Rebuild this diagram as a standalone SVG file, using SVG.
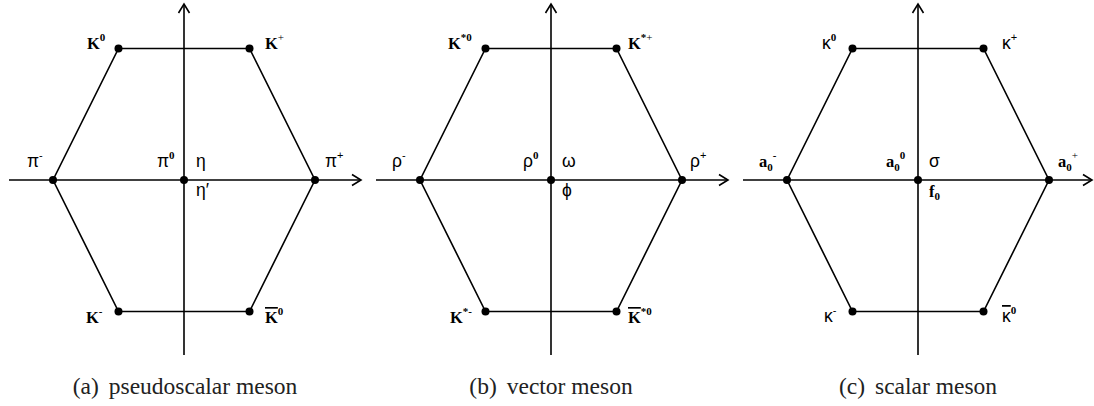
<svg xmlns="http://www.w3.org/2000/svg" width="1094" height="406" viewBox="0 0 1094 406">
<style>
.ln{stroke:#000;stroke-width:1.6;fill:none}
.dot{fill:#000}
.lb{font-family:"Liberation Serif",serif;font-size:16.5px;font-weight:bold;fill:#000}
.gk{font-family:"Liberation Sans",sans-serif;font-size:17.5px;fill:#000}
.s{font-size:11px}
.b{font-family:"Liberation Serif",serif;font-weight:bold}
.n{font-weight:normal}
.ov{text-decoration:overline}
.cap{font-family:"Liberation Serif",serif;font-size:23.5px;fill:#222;text-anchor:middle}
</style>
<defs>
<marker id="arr" markerUnits="userSpaceOnUse" markerWidth="14" markerHeight="14" viewBox="-11 -7 14 14" refX="0" refY="0" orient="auto">
<polyline points="-9,-5.5 0,0 -9,5.5" fill="none" stroke="#000" stroke-width="1.6"/>
</marker>
</defs>
<rect width="1094" height="406" fill="#fff"/>
<g id="connectors">
<line class="ln" x1="9" y1="180" x2="361" y2="180" marker-end="url(#arr)"/>
<line class="ln" x1="184" y1="355" x2="184" y2="4" marker-end="url(#arr)"/>
<polygon class="ln" points="118.5,48.5 249.5,48.5 315,180 249.5,311.5 118.5,311.5 53,180"/>
<line class="ln" x1="376" y1="180" x2="728" y2="180" marker-end="url(#arr)"/>
<line class="ln" x1="551" y1="355" x2="551" y2="4" marker-end="url(#arr)"/>
<polygon class="ln" points="485.5,48.5 616.5,48.5 682,180 616.5,311.5 485.5,311.5 420,180"/>
<line class="ln" x1="743" y1="180" x2="1092" y2="180" marker-end="url(#arr)"/>
<line class="ln" x1="918" y1="355" x2="918" y2="4" marker-end="url(#arr)"/>
<polygon class="ln" points="852.5,48.5 983.5,48.5 1049,180 983.5,311.5 852.5,311.5 787,180"/>
</g>
<g id="a-K0"><circle class="dot" cx="118.5" cy="48.5" r="4"/><text class="lb" x="87" y="49">K<tspan class="s" dy="-8">0</tspan></text></g>
<g id="a-Kp"><circle class="dot" cx="249.5" cy="48.5" r="4"/><text class="lb" x="265" y="49">K<tspan class="s n" dy="-8">+</tspan></text></g>
<g id="a-pim"><circle class="dot" cx="53" cy="180" r="4"/><text class="gk" x="27" y="167">π<tspan class="s" dy="-8">-</tspan></text></g>
<g id="a-pi0"><circle class="dot" cx="184" cy="180" r="4"/><text class="gk" x="157" y="167">π<tspan class="s b" dy="-8">0</tspan></text><text class="gk" x="196" y="167">η</text><text class="gk" x="196" y="196">η′</text></g>
<g id="a-pip"><circle class="dot" cx="315" cy="180" r="4"/><text class="gk" x="325" y="167">π<tspan class="s" dy="-8">+</tspan></text></g>
<g id="a-Km"><circle class="dot" cx="118.5" cy="311.5" r="4"/><text class="lb" x="86" y="323">K<tspan class="s" dy="-8">-</tspan></text></g>
<g id="a-K0bar"><circle class="dot" cx="249.5" cy="311.5" r="4"/><text class="lb" x="265" y="323"><tspan class="ov">K</tspan><tspan class="s" dy="-8">0</tspan></text></g>
<g id="b-Ks0"><circle class="dot" cx="485.5" cy="48.5" r="4"/><text class="lb" x="448" y="49">K<tspan class="s" dy="-8">*0</tspan></text></g>
<g id="b-Ksp"><circle class="dot" cx="616.5" cy="48.5" r="4"/><text class="lb" x="628" y="49">K<tspan class="s" dy="-8">*<tspan class="n">+</tspan></tspan></text></g>
<g id="b-rhom"><circle class="dot" cx="420" cy="180" r="4"/><text class="gk" x="392" y="167">ρ<tspan class="s" dy="-8">-</tspan></text></g>
<g id="b-rho0"><circle class="dot" cx="551" cy="180" r="4"/><text class="gk" x="523" y="167">ρ<tspan class="s b" dy="-8">0</tspan></text><text class="gk" x="562" y="167">ω</text><text class="gk" x="562" y="196">ϕ</text></g>
<g id="b-rhop"><circle class="dot" cx="682" cy="180" r="4"/><text class="gk" x="690" y="167">ρ<tspan class="s" dy="-8">+</tspan></text></g>
<g id="b-Ksm"><circle class="dot" cx="485.5" cy="311.5" r="4"/><text class="lb" x="450" y="323">K<tspan class="s" dy="-8">*-</tspan></text></g>
<g id="b-Ks0bar"><circle class="dot" cx="616.5" cy="311.5" r="4"/><text class="lb" x="628" y="323"><tspan class="ov">K</tspan><tspan class="s" dy="-8">*0</tspan></text></g>
<g id="c-k0"><circle class="dot" cx="852.5" cy="48.5" r="4"/><text class="gk" x="822" y="49">κ<tspan class="s b" dy="-8">0</tspan></text></g>
<g id="c-kp"><circle class="dot" cx="983.5" cy="48.5" r="4"/><text class="gk" x="1002" y="49">κ<tspan class="s" dy="-8">+</tspan></text></g>
<g id="c-a0m"><circle class="dot" cx="787" cy="180" r="4"/><text class="lb" x="759" y="167">a<tspan class="s" dy="4">0</tspan><tspan class="s" dy="-12">-</tspan></text></g>
<g id="c-a00"><circle class="dot" cx="918" cy="180" r="4"/><text class="lb" x="886" y="167">a<tspan class="s" dy="4">0</tspan><tspan class="s" dy="-12">0</tspan></text><text class="gk" x="929" y="167">σ</text><text class="lb" x="929" y="197">f<tspan class="s" dy="3">0</tspan></text></g>
<g id="c-a0p"><circle class="dot" cx="1049" cy="180" r="4"/><text class="lb" x="1058" y="167">a<tspan class="s" dy="4">0</tspan><tspan class="s n" dy="-12">+</tspan></text></g>
<g id="c-km"><circle class="dot" cx="852.5" cy="311.5" r="4"/><text class="gk" x="824" y="322">κ<tspan class="s" dy="-8">-</tspan></text></g>
<g id="c-k0bar"><circle class="dot" cx="983.5" cy="311.5" r="4"/><text class="gk" x="1002" y="322"><tspan class="ov">κ</tspan><tspan class="s b" dy="-8">0</tspan></text></g>
<g id="captions">
<text class="cap" x="185" y="394">(a)<tspan dx="10">pseudoscalar meson</tspan></text>
<text class="cap" x="551" y="394">(b)<tspan dx="10">vector meson</tspan></text>
<text class="cap" x="918" y="394">(c)<tspan dx="10">scalar meson</tspan></text>
</g>
</svg>
